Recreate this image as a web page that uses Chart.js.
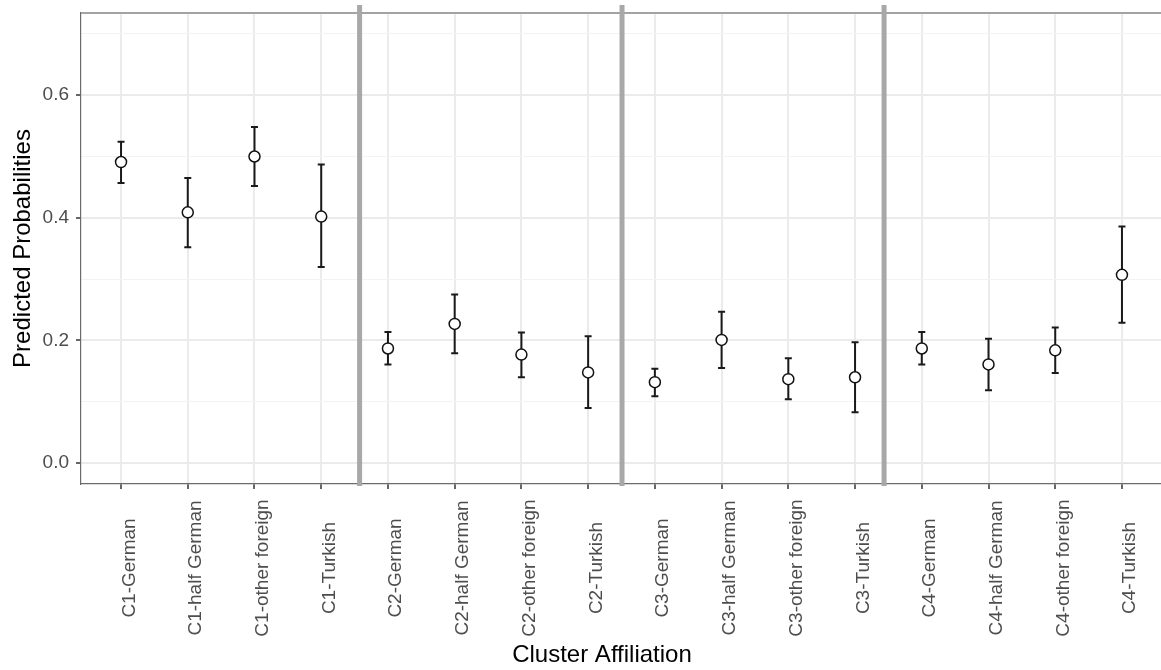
<!DOCTYPE html>
<html>
<head>
<meta charset="utf-8">
<script src="https://cdn.jsdelivr.net/npm/chart.js@4.4.1/dist/chart.umd.min.js"></script>
<style>
  html, body { margin: 0; padding: 0; background: #fff; overflow: hidden; }
  #chart { display: block; }
</style>
</head>
<body>
<canvas id="chart" width="1169" height="670" style="width:1169px;height:670px"></canvas>
<script>
// Categorie (cluster - origine)
const categories = [
    'C1-German', 'C1-half German', 'C1-other foreign', 'C1-Turkish',
    'C2-German', 'C2-half German', 'C2-other foreign', 'C2-Turkish',
    'C3-German', 'C3-half German', 'C3-other foreign', 'C3-Turkish',
    'C4-German', 'C4-half German', 'C4-other foreign', 'C4-Turkish'
];

// Probabilità previste e intervalli di confidenza
const prob  = [0.491, 0.409, 0.500, 0.402, 0.187, 0.227, 0.177, 0.148, 0.132, 0.201, 0.137, 0.140, 0.187, 0.161, 0.184, 0.307];
const lower = [0.457, 0.352, 0.452, 0.320, 0.161, 0.179, 0.140, 0.090, 0.109, 0.155, 0.104, 0.083, 0.161, 0.119, 0.147, 0.229];
const upper = [0.524, 0.465, 0.548, 0.487, 0.214, 0.275, 0.213, 0.207, 0.154, 0.247, 0.171, 0.197, 0.214, 0.203, 0.221, 0.386];

// Linee verticali di separazione tra i cluster (in unità dell'asse x)
const separators = [3.575, 7.508, 11.435];

// Tick asse y
const yMajor = [0, 0.2, 0.4, 0.6];
const yMinor = [0.1, 0.3, 0.5, 0.7];

const FONT = "'Liberation Sans', Arial, Helvetica, sans-serif";

// Barre di errore disegnate sotto i punti
const errorBars = {
    id: 'errorBars',
    beforeDatasetsDraw(chart) {
        const { ctx, scales: { x, y } } = chart;
        ctx.save();
        ctx.strokeStyle = '#1a1a1a';
        ctx.lineWidth = 2;
        const cap = 3.5;
        for (let i = 0; i < prob.length; i++) {
            const px = x.getPixelForValue(i);
            const yl = y.getPixelForValue(lower[i]);
            const yu = y.getPixelForValue(upper[i]);
            ctx.beginPath();
            ctx.moveTo(px, yl); ctx.lineTo(px, yu);
            ctx.moveTo(px - cap, yl); ctx.lineTo(px + cap, yl);
            ctx.moveTo(px - cap, yu); ctx.lineTo(px + cap, yu);
            ctx.stroke();
        }
        ctx.restore();
    }
};

// Bordo superiore, separatori, etichette x centrate e titolo asse x
const decorations = {
    id: 'decorations',
    afterDraw(chart) {
        const { ctx, chartArea, scales: { x } } = chart;
        ctx.save();
        // bordo superiore del pannello
        ctx.strokeStyle = '#a3a3a3';
        ctx.lineWidth = 2;
        ctx.beginPath();
        ctx.moveTo(chartArea.left, chartArea.top);
        ctx.lineTo(chartArea.right, chartArea.top);
        ctx.stroke();

        // separatori tra cluster
        ctx.strokeStyle = '#a8a8a8';
        ctx.lineWidth = 5;
        separators.forEach(s => {
            const px = x.getPixelForValue(s);
            ctx.beginPath();
            ctx.moveTo(px, chartArea.top - 8);
            ctx.lineTo(px, chartArea.bottom + 2);
            ctx.stroke();
        });

        // etichette asse x ruotate e centrate
        ctx.fillStyle = '#4d4d4d';
        ctx.font = '19px ' + FONT;
        ctx.textAlign = 'center';
        ctx.textBaseline = 'alphabetic';
        categories.forEach((c, i) => {
            const px = x.getPixelForValue(i);
            ctx.save();
            ctx.translate(px, 568);
            ctx.rotate(-Math.PI / 2);
            ctx.fillText(c, 0, 13.5);
            ctx.restore();
        });

        // titolo asse x
        ctx.fillStyle = '#000';
        ctx.font = '24px ' + FONT;
        ctx.textBaseline = 'middle';
        ctx.fillText('Cluster Affiliation', 602, 655);
        ctx.restore();
    }
};

const ctx = document.getElementById('chart').getContext('2d');
new Chart(ctx, {
    type: 'scatter',
    data: {
        datasets: [{
            data: prob.map((v, i) => ({ x: i, y: v })),
            pointRadius: 5.5,
            pointHoverRadius: 5.5,
            pointBackgroundColor: '#ffffff',
            pointBorderColor: '#111111',
            pointBorderWidth: 1.5
        }]
    },
    options: {
        responsive: false,
        animation: false,
        events: [],
        layout: { padding: { top: 13, left: 0, right: 0, bottom: 0 } },
        plugins: { legend: { display: false }, tooltip: { enabled: false } },
        scales: {
            x: {
                type: 'linear',
                min: -0.6,
                max: 15.6,
                afterBuildTicks: s => { s.ticks = categories.map((c, i) => ({ value: i })); },
                afterFit: s => { s.height = 186; },
                ticks: { display: false },
                grid: { color: '#ebebeb', lineWidth: 2, tickColor: '#333333', tickWidth: 1.5, tickLength: 5 },
                border: { color: '#6b6b6b', width: 1.2 }
            },
            y: {
                min: -0.034,
                max: 0.734,
                afterBuildTicks: s => {
                    s.ticks = yMajor.concat(yMinor).sort((a, b) => a - b).map(v => ({ value: v }));
                },
                afterFit: s => { s.width = 81; },
                ticks: {
                    callback: v => yMajor.includes(v) ? v.toFixed(1) : '',
                    color: '#4d4d4d',
                    font: { family: FONT, size: 19, lineHeight: 0.2 },
                    padding: 7
                },
                grid: {
                    color: c => yMinor.includes(c.tick.value) ? '#f3f3f3' : '#ebebeb',
                    lineWidth: c => yMinor.includes(c.tick.value) ? 1 : 2,
                    tickColor: c => yMinor.includes(c.tick.value) ? 'rgba(0,0,0,0)' : '#333333',
                    tickWidth: 1.5,
                    tickLength: 5
                },
                border: { color: '#6b6b6b', width: 1.2 },
                title: {
                    display: true,
                    text: 'Predicted Probabilities',
                    color: '#000',
                    font: { family: FONT, size: 24 },
                    padding: { top: 9, bottom: 0 }
                }
            }
        }
    },
    plugins: [errorBars, decorations]
});
</script>
</body>
</html>
